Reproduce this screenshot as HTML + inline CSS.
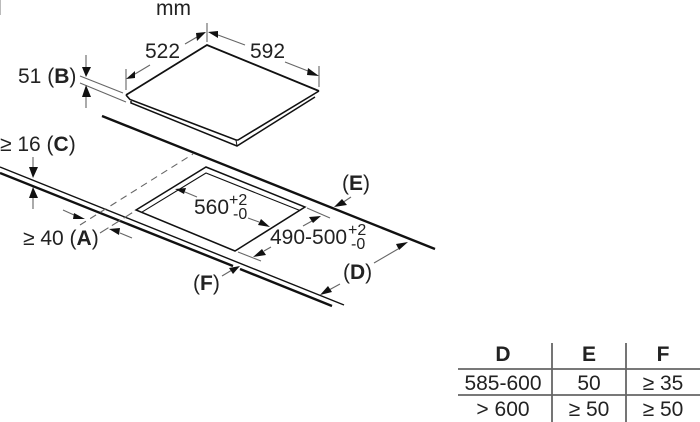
<!DOCTYPE html>
<html><head><meta charset="utf-8"><style>
html,body{margin:0;padding:0;background:#fff}
svg{display:block;filter:blur(.3px)}
text{font-family:"Liberation Sans",sans-serif;fill:#222;font-size:21px}
.b{font-weight:bold}
.s{font-size:16px}
.t{stroke:#666;stroke-width:1.1;fill:none}
.k{stroke:#111;fill:none}
.a{fill:#111;stroke:none}
</style></head><body>
<svg width="700" height="422" viewBox="0 0 700 422" xmlns="http://www.w3.org/2000/svg">
<rect x="0" y="0" width="1" height="15" fill="#bbb"/>
<text x="156" y="15">mm</text>

<!-- hob -->
<path class="k" stroke-width="1.8" d="M319 91L207 45L126 95"/>
<path class="k" stroke-width="1.6" d="M126 95L130 99.5L236 140L238 140L319 91"/>
<path class="k" stroke-width="1.5" d="M131 101V103L237 146L315 97"/>
<path class="k" stroke-width="1" d="M236 140L237 146"/>

<!-- hob dims -->
<path class="t" d="M207 23V42M319 66V87M126 69V90"/>
<path class="t" d="M135 74L150 65M185 44L197 37M218 35L245 45M285 62L308 71"/>
<path class="a" d="M206 32L197 41L196 33ZM208 32L218 31L218 38ZM319 76L308 68L307 75ZM126 79L135 71L135 78Z"/>
<text x="145" y="58">522</text><text x="250" y="58">592</text>

<!-- B -->
<text x="18" y="83">51 (<tspan class="b">B</tspan>)</text>
<path class="t" d="M86 55V68M86 96V108M80 76L123 93M80 83L126 102"/>
<path class="a" d="M86 77L82 67L91 67ZM86 85L82 97L91 97Z"/>

<!-- back edge -->
<path class="k" stroke-width="2.4" d="M102 116L435 249"/>

<!-- front edges -->
<path class="k" stroke-width="1.4" d="M0 167L344 305"/>
<path class="k" stroke-width="2.4" d="M0 173L233 266M240 269L332 306"/>

<!-- cutout -->
<path class="k" stroke-width="1.5" d="M136 210L206 167L305 207L235 251Z"/>
<path class="k" stroke-width="1.1" d="M141.6 212.3L206 173L299.6 210.4"/>

<!-- dashed -->
<path class="t" stroke-dasharray="7 5" d="M80 225L193 154"/>
<path class="t" d="M100 233L135 211" stroke-dasharray="10 4"/>

<!-- C -->
<text x="0" y="151">≥ 16 (<tspan class="b">C</tspan>)</text>
<path class="t" d="M33 157V170M33 196V209"/>
<path class="a" d="M33 178L29 167L38 167ZM33 187L29 198L38 198Z"/>

<!-- A -->
<text x="23" y="245">≥ 40 (<tspan class="b">A</tspan>)</text>
<path class="t" d="M63 210L74 215M120 233L132 238"/>
<path class="a" d="M85 219L74 213L73 219ZM109 229L120 228L119 235Z"/>

<!-- 560 -->
<text x="194" y="214">560</text>
<text class="s" x="229" y="205">+2</text>
<text class="s" x="233" y="219">-0</text>
<path class="t" d="M197 197L185 192M248 218L259 222"/>
<path class="a" d="M175 189L186 188L184 194ZM270 227L258 225L261 219Z"/>

<!-- 490 -->
<text x="270" y="244">490-500</text>
<text class="s" x="348" y="235">+2</text>
<text class="s" x="351" y="249">-0</text>
<path class="t" d="M307 208L330 218M238 252L261 261M303 226L312 221M264 251L271 247"/>
<path class="a" d="M321 216L309 217L313 223ZM253 257L262 249L266 255Z"/>

<!-- D E F -->
<text x="342" y="190">(<tspan class="b">E</tspan>)</text>
<path class="t" d="M351 197L342 203"/>
<path class="a" d="M334 207L342 199L347 205Z"/>
<text x="343" y="279">(<tspan class="b">D</tspan>)</text>
<path class="t" d="M374 263L398 249M329 290L340 284"/>
<path class="a" d="M408 242L396 244L399 250ZM320 295L328 286L332 292Z"/>
<text x="193" y="290">(<tspan class="b">F</tspan>)</text>
<path class="t" d="M222 276L232 270"/>
<path class="a" d="M240 266L229 268L233 274Z"/>

<!-- table -->
<path d="M458 369H700M458 395H700" stroke="#666" stroke-width="1.8" fill="none"/>
<path d="M552 343V422M626 343V422" stroke="#666" stroke-width="1.8" fill="none"/>
<g text-anchor="middle">
<text x="503" y="361" style="font-weight:bold">D</text>
<text x="589" y="361" style="font-weight:bold">E</text>
<text x="663" y="361" style="font-weight:bold">F</text>
<text x="503" y="390">585-600</text>
<text x="589" y="390">50</text>
<text x="663" y="390">≥ 35</text>
<text x="503" y="416">&gt; 600</text>
<text x="589" y="416">≥ 50</text>
<text x="663" y="416">≥ 50</text>
</g>
</svg>
</body></html>
